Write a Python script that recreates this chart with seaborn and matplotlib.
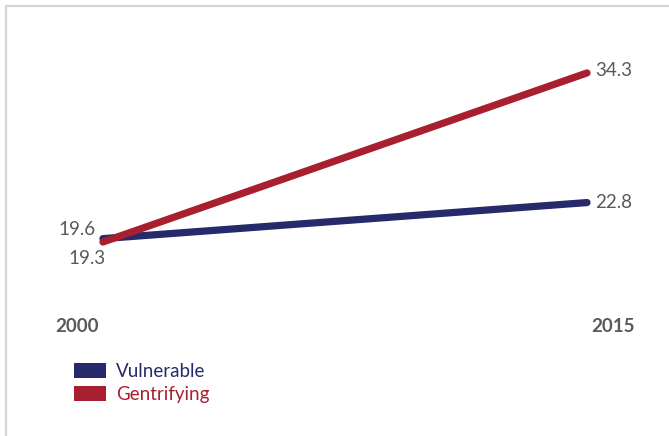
import matplotlib
matplotlib.use("Agg")
import matplotlib.pyplot as plt
from matplotlib.lines import Line2D
from matplotlib.patches import Patch
import pandas as pd
import seaborn as sns

# Share of households, two neighbourhood types
years = [2000, 2015]
vulnerable = [19.6, 22.8]
gentrifying = [19.3, 34.3]
series_names = ["Vulnerable", "Gentrifying"]
colors = {"Vulnerable": "#262A6B", "Gentrifying": "#A81F30"}
label_gray = "#595959"

df = pd.DataFrame({
    "year": years * 2,
    "value": vulnerable + gentrifying,
    "series": [series_names[0]] * 2 + [series_names[1]] * 2,
})

sns.set_theme(style="white")
plt.rcParams["font.family"] = ["Lato", "DejaVu Sans"]

W, H = 669, 436
fig = plt.figure(figsize=(W / 100, H / 100), dpi=100)
ax = fig.add_axes([0, 0, 1, 1])

sns.lineplot(data=df, x="year", y="value", hue="series", palette=colors,
             linewidth=5.2, legend=False, ax=ax, solid_capstyle="round")

ax.set_xlim(1996.81, 2017.54)
ax.set_ylim(2.09, 40.77)
ax.axis("off")

fs = 13.5
# value labels at each end
ax.annotate(f"{vulnerable[0]}", (years[0], vulnerable[0]), xytext=(-7, 9),
            textcoords="offset pixels", ha="right", va="center",
            fontsize=fs, color=label_gray)
ax.annotate(f"{gentrifying[0]}", (years[0], gentrifying[0]), xytext=(3, -16),
            textcoords="offset pixels", ha="right", va="center",
            fontsize=fs, color=label_gray)
ax.annotate(f"{vulnerable[1]}", (years[1], vulnerable[1]), xytext=(8, 0),
            textcoords="offset pixels", ha="left", va="center",
            fontsize=fs, color=label_gray)
ax.annotate(f"{gentrifying[1]}", (years[1], gentrifying[1]), xytext=(8, 2),
            textcoords="offset pixels", ha="left", va="center",
            fontsize=fs, color=label_gray)

# year labels under the line ends
for yr, dx in zip(years, (-26, 26)):
    ax.annotate(str(yr), (yr, 2.09), xytext=(dx, 110), textcoords="offset pixels",
                ha="center", va="center", fontsize=fs, fontweight="bold",
                color=label_gray)

# legend with coloured labels
handles = [Patch(facecolor=colors[n], edgecolor="none") for n in series_names]
leg = fig.legend(handles, series_names, loc="upper left",
                 bbox_to_anchor=(74 / W, 1 - 363 / H), frameon=False,
                 fontsize=fs, handlelength=1.7, handleheight=0.85,
                 handletextpad=0.55, labelspacing=0.3, borderpad=0,
                 borderaxespad=0)
for txt, n in zip(leg.get_texts(), series_names):
    txt.set_color(colors[n])

# light frame along the top and left edges
border = "#D6D6D6"
fig.add_artist(Line2D([6.5 / W, 6.5 / W], [0, 1 - 6.5 / H], color=border,
                      linewidth=1.6, transform=fig.transFigure))
fig.add_artist(Line2D([6 / W, 1], [1 - 6.5 / H, 1 - 6.5 / H], color=border,
                      linewidth=1.6, transform=fig.transFigure))

fig.savefig("out.png", dpi=100, facecolor="white")
